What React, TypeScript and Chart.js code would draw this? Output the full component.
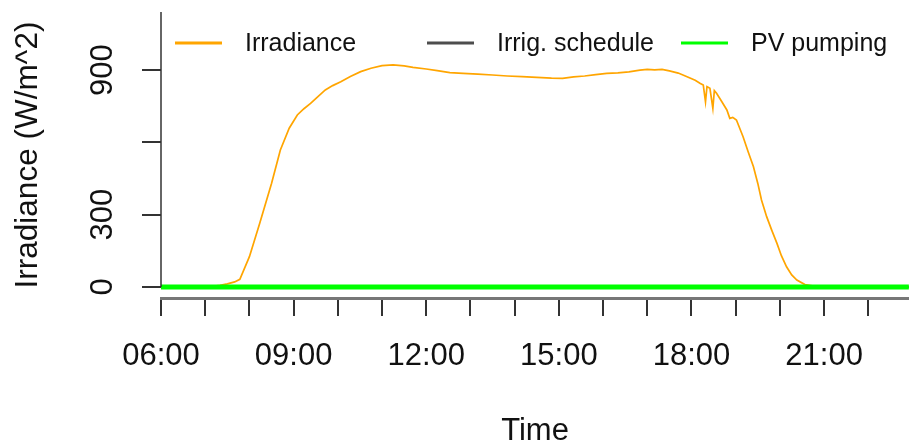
import React, { useEffect, useRef } from "react";
import { Chart, registerables } from "chart.js";

Chart.register(...registerables);

const times: string[] = [
  "06:00", "06:30", "07:00", "07:10", "07:20", "07:30", "07:40", "07:47", "08:00", "08:14",
  "08:30", "08:42", "08:54", "09:05", "09:14", "09:23", "09:33", "09:43", "09:53", "10:04",
  "10:17", "10:31", "10:45", "11:00", "11:15", "11:30", "11:42", "12:00", "12:15", "12:32",
  "12:50", "13:10", "13:30", "13:50", "14:10", "14:30", "14:50", "15:05", "15:20", "15:35",
  "15:50", "16:05", "16:20", "16:35", "16:50", "17:00", "17:10", "17:20", "17:30", "17:42",
  "17:54", "18:05", "18:12", "18:16", "18:19", "18:21", "18:25", "18:29", "18:31", "18:34",
  "18:41", "18:48", "18:52", "18:56", "19:01", "19:10", "19:17", "19:24", "19:30", "19:35",
  "19:42", "19:49", "19:56", "20:02", "20:09", "20:16", "20:23", "20:34", "20:48", "21:08",
  "22:00", "22:55",
];

const irradiance: number[] = [
  0, 0, 1, 3, 7, 13, 21, 32, 126, 265,
  430, 569, 659, 714, 740, 762, 790, 818, 836, 852,
  874, 894, 908, 919, 922, 918, 912, 905, 898, 890,
  887, 884, 880, 876, 873, 870, 867, 866, 872, 876,
  882, 887, 889, 893, 900, 903, 901, 903, 897, 888,
  873, 858, 845, 838, 769, 832, 825, 742, 815, 804,
  770, 735, 700, 704, 693, 624, 560, 500, 430, 361,
  292, 235, 181, 130, 84, 50, 29, 10, 3, 0,
  0, 0,
];

const irrigSchedule: number[] = times.map(() => 0);
const pvPumping: number[] = times.map(() => 0);

const seriesNames: string[] = ["Irradiance", "Irrig. schedule", "PV pumping"];
const seriesColors: string[] = ["#FFA500", "#4D4D4D", "#00FF00"];

const yTicks: number[] = [0, 300, 600, 900];
const yLabelValues: number[] = [0, 300, 900];
const xHourTicks: number[] = [6, 7, 8, 9, 10, 11, 12, 13, 14, 15, 16, 17, 18, 19, 20, 21, 22];
const xLabelHours: number[] = [6, 9, 12, 15, 18, 21];

const yTitle = "Irradiance (W/m^2)";
const xTitle = "Time";

const FONT = "'Liberation Sans', Arial, Helvetica, sans-serif";

const toHours = (t: string) => {
  const [h, m] = t.split(":").map(Number);
  return h + m / 60;
};

const X_MIN = 6;
const X_MAX = 22.92;
const Y_MIN = -45.7;
const Y_MAX = 1141.6;

const customPlugin = {
  id: "rstyle",
  afterDraw(chart: any) {
    const ctx = chart.ctx as CanvasRenderingContext2D;
    const area = chart.chartArea;
    const ys = chart.scales.y;
    ctx.save();
    // y axis line
    ctx.strokeStyle = "#333";
    ctx.lineWidth = 1.5;
    ctx.beginPath();
    ctx.moveTo(area.left, area.top);
    ctx.lineTo(area.left, ys.getPixelForValue(0));
    ctx.stroke();
    // y tick labels (rotated)
    ctx.fillStyle = "#111";
    ctx.font = `31px ${FONT}`;
    ctx.textAlign = "center";
    ctx.textBaseline = "middle";
    for (const v of yLabelValues) {
      const py = ys.getPixelForValue(v);
      ctx.save();
      ctx.translate(area.left - 58, py);
      ctx.rotate(-Math.PI / 2);
      ctx.fillText(String(v), 0, 0);
      ctx.restore();
    }
    // y title
    ctx.save();
    ctx.font = `31.5px ${FONT}`;
    ctx.translate(area.left - 133, (area.top + area.bottom) / 2);
    ctx.rotate(-Math.PI / 2);
    ctx.fillText(yTitle, 0, 0);
    ctx.restore();
    // x title
    ctx.font = `31px ${FONT}`;
    ctx.fillText(xTitle, (area.left + area.right) / 2, 431);
    // legend
    const legendX = [14, 266, 520];
    const ly = area.top + 31;
    ctx.font = `25px ${FONT}`;
    ctx.textAlign = "left";
    for (let i = 0; i < seriesNames.length; i++) {
      const x0 = area.left + legendX[i];
      ctx.strokeStyle = seriesColors[i];
      ctx.lineWidth = 3;
      ctx.beginPath();
      ctx.moveTo(x0, ly);
      ctx.lineTo(x0 + 47, ly);
      ctx.stroke();
      ctx.fillStyle = "#111";
      ctx.fillText(seriesNames[i], x0 + 70, ly + 1);
    }
    ctx.restore();
  },
};

export default function App() {
  const ref = useRef<HTMLCanvasElement | null>(null);
  useEffect(() => {
    if (!ref.current) return;
    const xs = times.map(toHours);
    const mk = (vals: number[]) => vals.map((v, i) => ({ x: xs[i], y: v }));
    const chart = new Chart(ref.current, {
      type: "line",
      data: {
        datasets: [
          {
            label: seriesNames[0],
            data: mk(irradiance),
            borderColor: seriesColors[0],
            borderWidth: 1.7,
            pointRadius: 0,
            tension: 0,
            order: 3,
          },
          {
            label: seriesNames[1],
            data: mk(irrigSchedule),
            borderColor: seriesColors[1],
            borderWidth: 2,
            pointRadius: 0,
            order: 2,
          },
          {
            label: seriesNames[2],
            data: mk(pvPumping),
            borderColor: seriesColors[2],
            borderWidth: 5,
            pointRadius: 0,
            order: 1,
          },
        ],
      },
      options: {
        animation: false,
        responsive: false,
        devicePixelRatio: 1,
        layout: { padding: { top: 12, left: 0, right: 0, bottom: 0 } },
        plugins: { legend: { display: false }, tooltip: { enabled: false } },
        scales: {
          x: {
            type: "linear",
            min: X_MIN,
            max: X_MAX,
            afterBuildTicks: (s: any) => {
              s.ticks = xHourTicks.map((v) => ({ value: v }));
            },
            afterFit: (s: any) => {
              s.height = 148;
            },
            grid: { drawOnChartArea: false, drawTicks: true, tickLength: 18, color: "#333", lineWidth: 2 },
            border: { display: true, color: "#777", width: 3 },
            ticks: {
              autoSkip: false,
              maxRotation: 0,
              minRotation: 0,
              padding: 22,
              color: "#111",
              font: { size: 31, family: FONT },
              callback: (v: any) => {
                const n = Number(v);
                return xLabelHours.includes(n) ? `${String(n).padStart(2, "0")}:00` : "";
              },
            },
          },
          y: {
            type: "linear",
            min: Y_MIN,
            max: Y_MAX,
            afterBuildTicks: (s: any) => {
              s.ticks = yTicks.map((v) => ({ value: v }));
            },
            afterFit: (s: any) => {
              s.width = 161;
            },
            grid: { drawOnChartArea: false, drawTicks: true, tickLength: 19, color: "#333", lineWidth: 2 },
            border: { display: false },
            ticks: { display: false },
          },
        },
      },
      plugins: [customPlugin],
    });
    return () => chart.destroy();
  }, []);
  return (
    <div style={{ position: "fixed", left: 0, top: 0, width: 909, height: 446, background: "#fff" }}>
      <canvas ref={ref} width={909} height={446} style={{ width: 909, height: 446 }} />
    </div>
  );
}
